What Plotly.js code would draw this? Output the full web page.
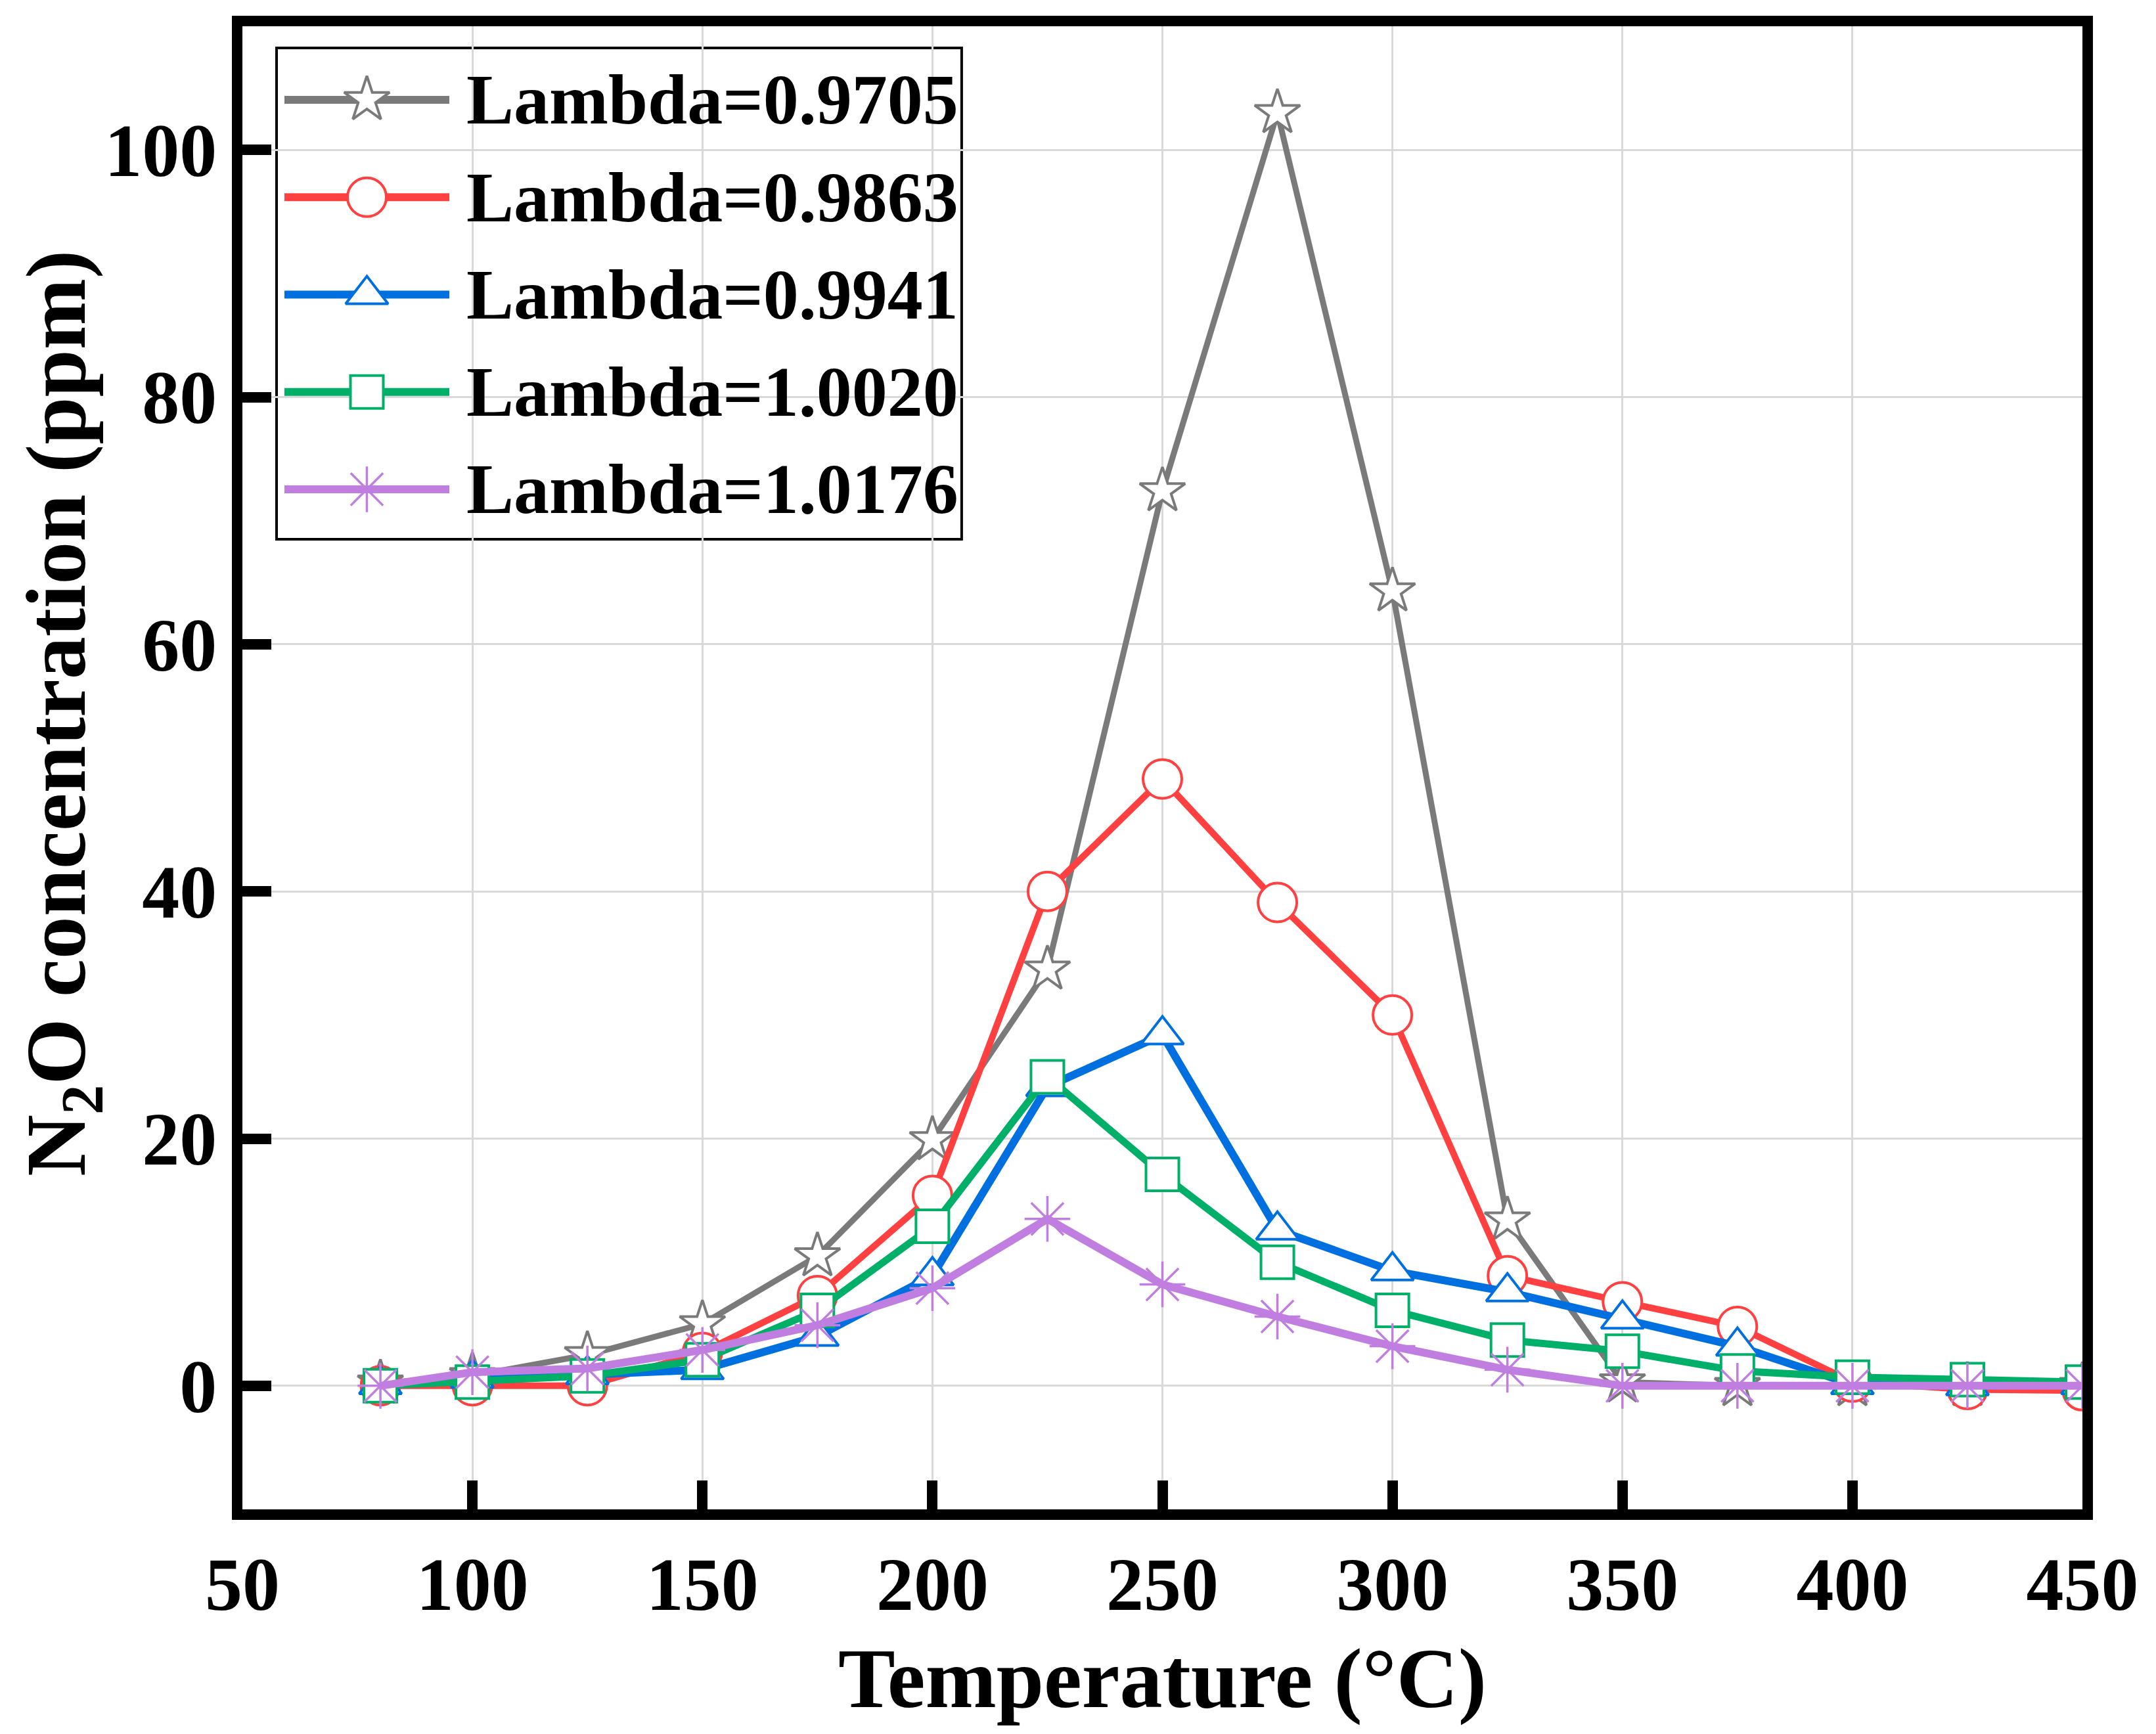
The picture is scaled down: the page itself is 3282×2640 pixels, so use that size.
<!DOCTYPE html>
<html>
<head>
<meta charset="utf-8">
<script src="https://cdn.plot.ly/plotly-3.0.1.min.js"></script>
<style>html,body{margin:0;padding:0;background:#fff}#chart{width:3282px;height:2640px}</style>
</head>
<body>
<div id="chart"></div>
<script>
// ---- data ----
const temperature = [80, 100, 125, 150, 175, 200, 225, 250, 275, 300, 325, 350, 375, 400, 425, 450];
const lambda09705 = [0.2, 0.8, 2.5, 5.0, 10.5, 19.9, 33.7, 72.4, 103.0, 64.3, 13.4, 0.3, 0, 0, 0, 0];
const lambda09863 = [0, 0, 0, 2.7, 7.3, 15.4, 40.0, 49.1, 39.1, 30.0, 8.9, 6.8, 4.8, 0.3, -0.3, -0.4];
const lambda09941 = [0.1, 0.6, 0.9, 1.3, 4.0, 8.9, 24.2, 28.4, 12.6, 9.3, 7.6, 5.4, 3.2, 0.1, 0, 0.1];
const lambda10020 = [0, 0.3, 0.8, 2.1, 6.1, 12.9, 25.0, 17.1, 10.0, 6.1, 3.7, 2.8, 1.2, 0.7, 0.5, 0.3];
const lambda10176 = [0, 1.1, 1.4, 2.9, 4.9, 7.9, 13.5, 8.2, 5.6, 3.2, 1.3, 0, 0, 0, 0, 0];
const seriesNames = ['Lambda=0.9705', 'Lambda=0.9863', 'Lambda=0.9941', 'Lambda=1.0020', 'Lambda=1.0176'];
const xTitle = 'Temperature (°C)';
const yTitle = 'N<sub>2</sub>O concentration (ppm)';

// ---- styles ----
const seriesValues = [lambda09705, lambda09863, lambda09941, lambda10020, lambda10176];
const colors = ['#7a7a7a', '#ff4040', '#0070e0', '#00af68', '#c07ee0'];
const symbols = ['star', 'circle', 'triangle-up', 'square', 'asterisk-open'];
const msizes = [52, 59, 56, 50, 58];
const mlines = [4, 4, 4, 4, 3.5];
const lwidths = [9, 10, 12, 11, 12];
const FONT = 'Liberation Serif, "Times New Roman", serif';

function markerStyle(i) {
  return {
    symbol: symbols[i], size: msizes[i],
    color: symbols[i] === 'asterisk-open' ? colors[i] : '#ffffff',
    line: {color: colors[i], width: mlines[i]}
  };
}

const traces = seriesValues.map((vals, i) => ({
  type: 'scatter', mode: 'lines+markers', name: seriesNames[i],
  x: temperature, y: vals, xaxis: 'x', yaxis: 'y',
  line: {color: colors[i], width: lwidths[i]},
  marker: markerStyle(i), showlegend: false
}));

// legend samples drawn on a hidden helper axis (x2/y2), one row per series
seriesNames.forEach((nm, i) => {
  const m = markerStyle(i);
  m.opacity = [0, 1, 0];
  traces.push({
    type: 'scatter', mode: 'lines+markers', name: nm,
    x: [0, 0.5, 1], y: [i, i, i], xaxis: 'x2', yaxis: 'y2',
    line: {color: colors[i], width: 12}, marker: m,
    showlegend: false, hoverinfo: 'skip'
  });
});

const annotations = seriesNames.map((nm, i) => ({
  text: nm, xref: 'x2', yref: 'y2', x: 1.0956, y: i,
  xanchor: 'left', yanchor: 'middle', showarrow: false,
  font: {family: FONT, size: 108, weight: 'bold', color: '#000'}
}));
annotations.push({
  text: yTitle, xref: 'paper', yref: 'paper', x: -0.0978, y: 0.5368,
  xanchor: 'center', yanchor: 'middle', textangle: -90, showarrow: false,
  font: {family: FONT, size: 130, weight: 'bold', color: '#000'}
});

const tickFont = {family: FONT, size: 114, weight: 'bold', color: '#000'};
const axisCommon = {
  showline: true, mirror: true, linewidth: 16, linecolor: '#000',
  ticks: 'inside', ticklen: 44, tickwidth: 16, tickcolor: '#000',
  showgrid: true, gridcolor: '#d9d9d9', gridwidth: 3, zeroline: false,
  tickfont: tickFont
};

const layout = {
  width: 3282, height: 2640,
  margin: {l: 369, r: 112, t: 40, b: 342, pad: 0},
  paper_bgcolor: '#ffffff', plot_bgcolor: 'rgba(0,0,0,0)',
  showlegend: false,
  xaxis: Object.assign({}, axisCommon, {
    range: [50, 450], tick0: 50, dtick: 50,
    title: {text: xTitle, standoff: 40, font: {family: FONT, size: 130, weight: 'bold', color: '#000'}}
  }),
  yaxis: Object.assign({}, axisCommon, {
    range: [-10, 110], tick0: 0, dtick: 20
  }),
  xaxis2: {domain: [0.01857, 0.3909], range: [-0.0478, 4.1076], showgrid: false, zeroline: false,
           showline: false, showticklabels: false, ticks: '', anchor: 'y2', fixedrange: true},
  yaxis2: {domain: [0.6541, 0.9854], range: [4.513, -0.533], showgrid: false, zeroline: false,
           showline: false, showticklabels: false, ticks: '', anchor: 'x2', fixedrange: true},
  shapes: [{
    type: 'rect', xref: 'x2 domain', yref: 'y2 domain', x0: 0, x1: 1, y0: 0, y1: 1,
    line: {color: '#000', width: 4}, fillcolor: '#ffffff', layer: 'below'
  }],
  annotations: annotations
};

Plotly.newPlot('chart', traces, layout, {staticPlot: true, displayModeBar: false});
</script>
</body>
</html>
